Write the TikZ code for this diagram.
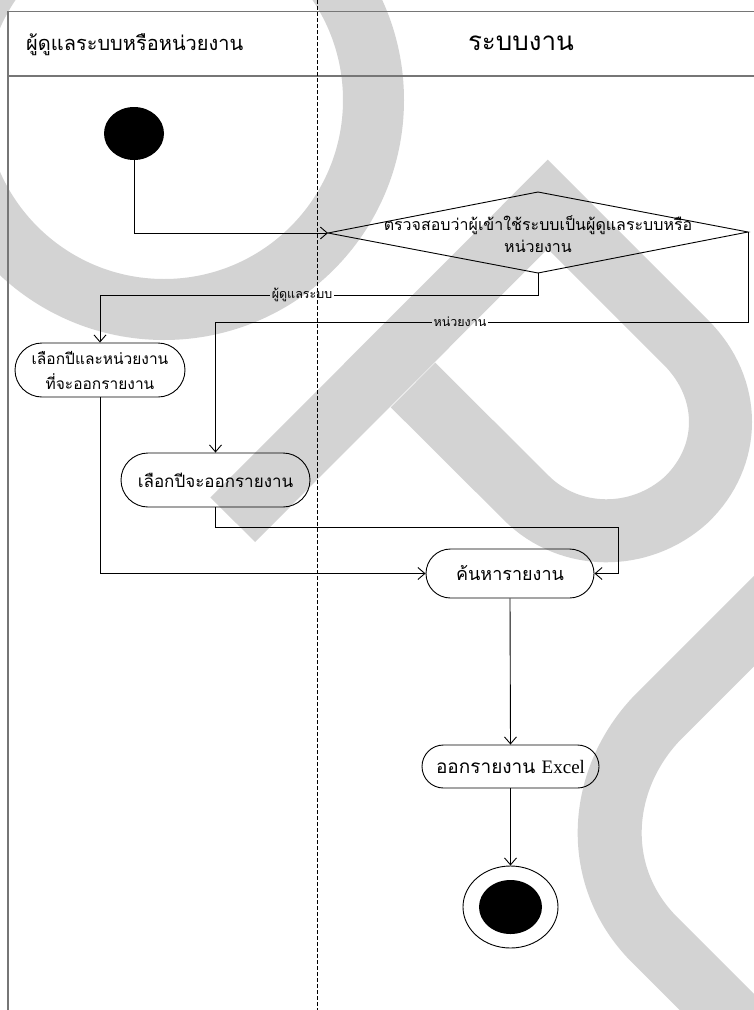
\documentclass[tikz,border=0pt]{standalone}
\usepackage{fontspec}
\newfontfamily\thai[Script=Thai]{Loma}
\newfontfamily\lat{Liberation Serif}
\usetikzlibrary{arrows.meta,shapes.geometric}
\definecolor{wm}{RGB}{211,211,211}
\definecolor{framec}{RGB}{118,118,118}
\begin{document}
\begin{tikzpicture}[x=1pt,y=-1pt,
  conn/.style={line width=0.9pt},
  arr/.style={conn,-{Straight Barb[length=7pt,width=12pt]}},
  act/.style={draw,line width=0.9pt,inner sep=0pt,align=center,
    font=\thai\fontsize{17}{25}\selectfont},
  lbl/.style={inner sep=1.5pt,font=\thai\fontsize{12.5}{13}\selectfont},
  hdr/.style={inner sep=0pt,font=\thai\fontsize{20}{24}\selectfont},
  framel/.style={draw=framec,line width=1.5pt}]
\useasboundingbox (0,0) rectangle (754,1010);
% watermark
\begin{scope}
\clip (0,0) rectangle (754,1010);
\draw[wm,line width=61pt] (164,100) circle[radius=209.5pt];
\draw[wm,line width=63pt,line join=miter] (232.75,519.75) -- (547.75,204.25) -- (686,342.5)
  .. controls (732,388.5) and (732,456) .. (686,500)
  .. controls (640.2,541.4) and (569.8,541.4) .. (526.2,497.8) -- (413,385);
\draw[wm,line width=64pt] (800,575) -- (660,715) .. controls (600,775) and (590,870) .. (650,935) -- (765,1050);
\end{scope}
% swimlanes
\draw[framel] (754,11.6) -- (8.3,11.6);
\draw[framel] (8.3,76) -- (754,76);
\draw[draw=framec,line width=2.2pt] (8.3,11) -- (8.3,1010);
\draw[line width=0.8pt,dash pattern=on 4pt off 2pt] (317.3,0) -- (317.3,1010);
\node[hdr,anchor=west] (h1) at (26,45) {ผู้ดูแลระบบหรือหน่วยงาน};
\node[hdr,font=\thai\fontsize{26}{30}\selectfont] (h2) at (521,43) {ระบบงาน};
% start
\node[ellipse,fill=black,minimum width=60pt,minimum height=53pt,inner sep=0pt] (start) at (134,133.5) {};
% decision
\coordinate (dl) at (328,233);
\coordinate (dt) at (538,192);
\coordinate (dr) at (748,232);
\coordinate (db) at (538,273);
\draw[conn] (dl) -- (dt) -- (dr) -- (db) -- cycle;
\node[inner sep=0pt,align=center,font=\thai\fontsize{16}{22}\selectfont] (dec) at (538,234)
  {ตรวจสอบว่าผู้เข้าใช้ระบบเป็นผู้ดูแลระบบหรือ\\หน่วยงาน};
% activities
\node[act,minimum width=170pt,minimum height=54pt,rounded corners=27pt,
  font=\thai\fontsize{15.5}{25}\selectfont] (A) at (100,370)
  {เลือกปีและหน่วยงาน\\ที่จะออกรายงาน};
\node[act,minimum width=189pt,minimum height=54pt,rounded corners=27pt] (B) at (215.5,480)
  {เลือกปีจะออกรายงาน};
\node[act,minimum width=168pt,minimum height=49pt,rounded corners=24.5pt,
  font=\thai\fontsize{18}{24}\selectfont] (C) at (510,573.5) {ค้นหารายงาน};
\node[act,minimum width=177pt,minimum height=43pt,rounded corners=21.5pt,
  font=\thai\fontsize{19}{24}\selectfont] (D) at (510.5,766.5)
  {ออกรายงาน {\lat Excel}};
% end
\node[ellipse,draw,line width=0.9pt,minimum width=95pt,minimum height=82pt,inner sep=0pt] (endo) at (510.5,907) {};
\node[ellipse,fill=black,minimum width=63pt,minimum height=54pt,inner sep=0pt] (endi) at (510.5,907) {};
% connectors
\draw[arr] (start.south) |- (dl);
\coordinate (k1) at (538,295);
\node[lbl] (lab1) at (302,295) {ผู้ดูแลระบบ};
\draw[conn] (db) -- (k1) -- (lab1.east);
\draw[arr] (lab1.west) -| (A.north);
\coordinate (k2) at (748,322);
\node[lbl] (lab2) at (460,322) {หน่วยงาน};
\draw[conn] (dr) -- (k2) -- (lab2.east);
\draw[arr] (lab2.west) -| (B.north);
\draw[arr] (A.south) |- (C.west);
\coordinate (bc) at (618,527);
\draw[conn] (B.south) |- (bc);
\draw[arr] (bc) |- (C.east);
\draw[arr] (C.south) -- (D.north);
\draw[arr] (D.south) -- (endo.north);
\end{tikzpicture}
\end{document}
